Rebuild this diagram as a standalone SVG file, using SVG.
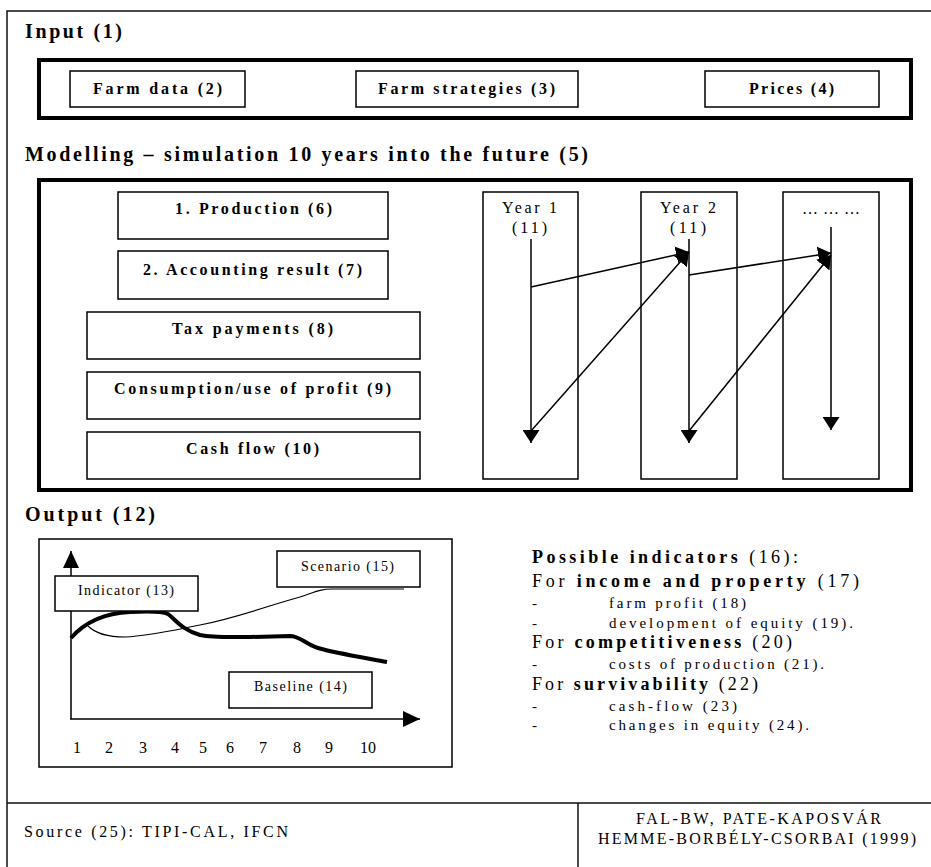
<svg xmlns="http://www.w3.org/2000/svg" width="931" height="867" viewBox="0 0 931 867" font-family="'Liberation Serif', 'Times New Roman', Times, serif">
<defs>
<style>
.t{font-family:'Liberation Serif','Times New Roman',Times,serif;fill:#000}
.b{font-weight:bold}
.frame{fill:none;stroke:#111;stroke-width:1.5}
.thick{fill:#fff;stroke:#000;stroke-width:4}
.box{fill:#fff;stroke:#000;stroke-width:1.5}
.ln{fill:none;stroke:#000;stroke-width:1.5}
</style>
<marker id="ah" markerUnits="userSpaceOnUse" viewBox="0 0 13 17" refX="13" refY="8.5" markerWidth="13" markerHeight="17" orient="auto">
<path d="M0,0 L13,8.5 L0,17 z" fill="#000"/>
</marker>
<marker id="ah2" markerUnits="userSpaceOnUse" viewBox="0 0 17 16" refX="17" refY="8" markerWidth="17" markerHeight="16" orient="auto">
<path d="M0,0 L17,8 L0,16 z" fill="#000"/>
</marker>
</defs>
<rect width="931" height="867" fill="#fff"/>

<g id="frame">
<path class="frame" d="M7,867 V11 H931"/>
<path class="frame" d="M7,803 H931 M578,803 V867"/>
</g>

<g id="input-title"><text class="t b" x="25" y="38" font-size="20" textLength="97" lengthAdjust="spacing">Input (1)</text></g>
<g id="input-box"><rect class="thick" x="39" y="60" width="872" height="58"/></g>
<g id="farm-data"><rect class="box" x="70" y="71" width="175" height="36"/><text class="t b" x="93" y="94" font-size="16" textLength="129" lengthAdjust="spacing">Farm data (2)</text></g>
<g id="farm-strategies"><rect class="box" x="356" y="71" width="222" height="36"/><text class="t b" x="378" y="94" font-size="16" textLength="177" lengthAdjust="spacing">Farm strategies (3)</text></g>
<g id="prices"><rect class="box" x="705" y="71" width="174" height="36"/><text class="t b" x="749" y="94" font-size="16" textLength="85" lengthAdjust="spacing">Prices (4)</text></g>

<g id="modelling-title"><text class="t b" x="25" y="161" font-size="20" textLength="563" lengthAdjust="spacing">Modelling – simulation 10 years into the future (5)</text></g>
<g id="modelling-box"><rect class="thick" x="39" y="180" width="872" height="310"/></g>
<g id="production"><rect class="box" x="118" y="192" width="270" height="47"/><text class="t b" x="175" y="214" font-size="16" textLength="157" lengthAdjust="spacing">1. Production (6)</text></g>
<g id="accounting"><rect class="box" x="118" y="251" width="270" height="48"/><text class="t b" x="143" y="275" font-size="16" textLength="219" lengthAdjust="spacing">2. Accounting result (7)</text></g>
<g id="tax"><rect class="box" x="87" y="312" width="333" height="47"/><text class="t b" x="172" y="334" font-size="16" textLength="161" lengthAdjust="spacing">Tax payments (8)</text></g>
<g id="consumption"><rect class="box" x="87" y="372" width="333" height="47"/><text class="t b" x="114" y="394" font-size="16" textLength="277" lengthAdjust="spacing">Consumption/use of profit (9)</text></g>
<g id="cashflow"><rect class="box" x="87" y="432" width="333" height="47"/><text class="t b" x="186" y="454" font-size="16" textLength="133" lengthAdjust="spacing">Cash flow (10)</text></g>

<g id="year1"><rect class="box" x="483" y="192" width="95" height="287"/><text class="t" x="502" y="213" font-size="16" textLength="55" lengthAdjust="spacing">Year 1</text><text class="t" x="512" y="233" font-size="16" textLength="35" lengthAdjust="spacing">(11)</text></g>
<g id="year2"><rect class="box" x="641" y="192" width="96" height="287"/><text class="t" x="660" y="213" font-size="16" textLength="56" lengthAdjust="spacing">Year 2</text><text class="t" x="670" y="233" font-size="16" textLength="36" lengthAdjust="spacing">(11)</text></g>
<g id="year-n"><rect class="box" x="783" y="192" width="96" height="287"/><text class="t" x="802" y="214" font-size="16" textLength="58" lengthAdjust="spacing">… … …</text></g>

<g id="connectors">
<line class="ln" x1="531" y1="239" x2="531" y2="443" marker-end="url(#ah)"/>
<line class="ln" x1="689" y1="239" x2="689" y2="443" marker-end="url(#ah)"/>
<line class="ln" x1="831" y1="227" x2="831" y2="430" marker-end="url(#ah)"/>
<line class="ln" x1="531" y1="287" x2="689" y2="252" marker-end="url(#ah)"/>
<line class="ln" x1="531" y1="431" x2="689" y2="252" marker-end="url(#ah)"/>
<line class="ln" x1="689" y1="275" x2="831" y2="253" marker-end="url(#ah)"/>
<line class="ln" x1="689" y1="431" x2="831" y2="255" marker-end="url(#ah)"/>
</g>

<g id="output-title"><text class="t b" x="25" y="521" font-size="20" textLength="130" lengthAdjust="spacing">Output (12)</text></g>

<g id="chart">
<rect class="box" x="39" y="539" width="413" height="228"/>
<line class="ln" x1="71" y1="719" x2="71" y2="551" stroke-width="2" marker-end="url(#ah2)"/>
<line class="ln" x1="70" y1="719" x2="420" y2="719" stroke-width="2" marker-end="url(#ah2)"/>
<path d="M88,626 C95,633 105,637 125,637 C150,636 170,631 200,625 C240,617 270,605 300,597 C315,592 320,589 332,589 L404,589" fill="none" stroke="#000" stroke-width="1.2"/>
<path d="M71,638 C85,622 105,613 130,612 C150,611 162,611 168,614 C176,620 182,630 200,635 C215,638 230,637 250,637 L290,636 C300,636 305,644 318,648 C335,653 360,657 387,662" fill="none" stroke="#000" stroke-width="4"/>
<g class="t" font-size="16" text-anchor="middle">
<text x="77" y="753">1</text><text x="109" y="753">2</text><text x="143" y="753">3</text><text x="175" y="753">4</text><text x="203" y="753">5</text><text x="230" y="753">6</text><text x="263" y="753">7</text><text x="297" y="753">8</text><text x="329" y="753">9</text><text x="368" y="753">10</text>
</g>
</g>
<g id="indicator"><rect class="box" x="55" y="576" width="143" height="35"/><text class="t" x="78" y="595" font-size="14" textLength="96" lengthAdjust="spacing">Indicator (13)</text></g>
<g id="scenario"><rect class="box" x="277" y="551" width="143" height="36"/><text class="t" x="301" y="571" font-size="14" textLength="93" lengthAdjust="spacing">Scenario (15)</text></g>
<g id="baseline"><rect class="box" x="229" y="672" width="143" height="36"/><text class="t" x="254" y="691" font-size="14" textLength="93" lengthAdjust="spacing">Baseline (14)</text></g>

<g id="indicators-list" class="t">
<text x="532" y="563" font-size="18" textLength="266" lengthAdjust="spacing"><tspan class="b">Possible indicators</tspan> (16):</text>
<text x="532" y="587" font-size="18" textLength="327" lengthAdjust="spacing">For <tspan class="b">income and property</tspan> (17)</text>
<text x="532" y="608" font-size="15">-</text><text x="609" y="608" font-size="15" textLength="137" lengthAdjust="spacing">farm profit (18)</text>
<text x="532" y="628" font-size="15">-</text><text x="609" y="628" font-size="15" textLength="244" lengthAdjust="spacing">development of equity (19).</text>
<text x="532" y="648" font-size="18" textLength="260" lengthAdjust="spacing">For <tspan class="b">competitiveness</tspan> (20)</text>
<text x="532" y="669" font-size="15">-</text><text x="609" y="669" font-size="15" textLength="215" lengthAdjust="spacing">costs of production (21).</text>
<text x="532" y="690" font-size="18" textLength="226" lengthAdjust="spacing">For <tspan class="b">survivability</tspan> (22)</text>
<text x="532" y="711" font-size="15">-</text><text x="609" y="711" font-size="15" textLength="128" lengthAdjust="spacing">cash-flow (23)</text>
<text x="532" y="730" font-size="15">-</text><text x="609" y="730" font-size="15" textLength="200" lengthAdjust="spacing">changes in equity (24).</text>
</g>

<g id="footer" class="t">
<text x="24" y="837" font-size="16" textLength="264" lengthAdjust="spacing">Source (25): TIPI-CAL, IFCN</text>
<text x="636" y="824" font-size="16" textLength="245" lengthAdjust="spacing">FAL-BW, PATE-KAPOSVÁR</text>
<text x="598" y="844" font-size="16" textLength="318" lengthAdjust="spacing">HEMME-BORBÉLY-CSORBAI (1999)</text>
</g>
</svg>
